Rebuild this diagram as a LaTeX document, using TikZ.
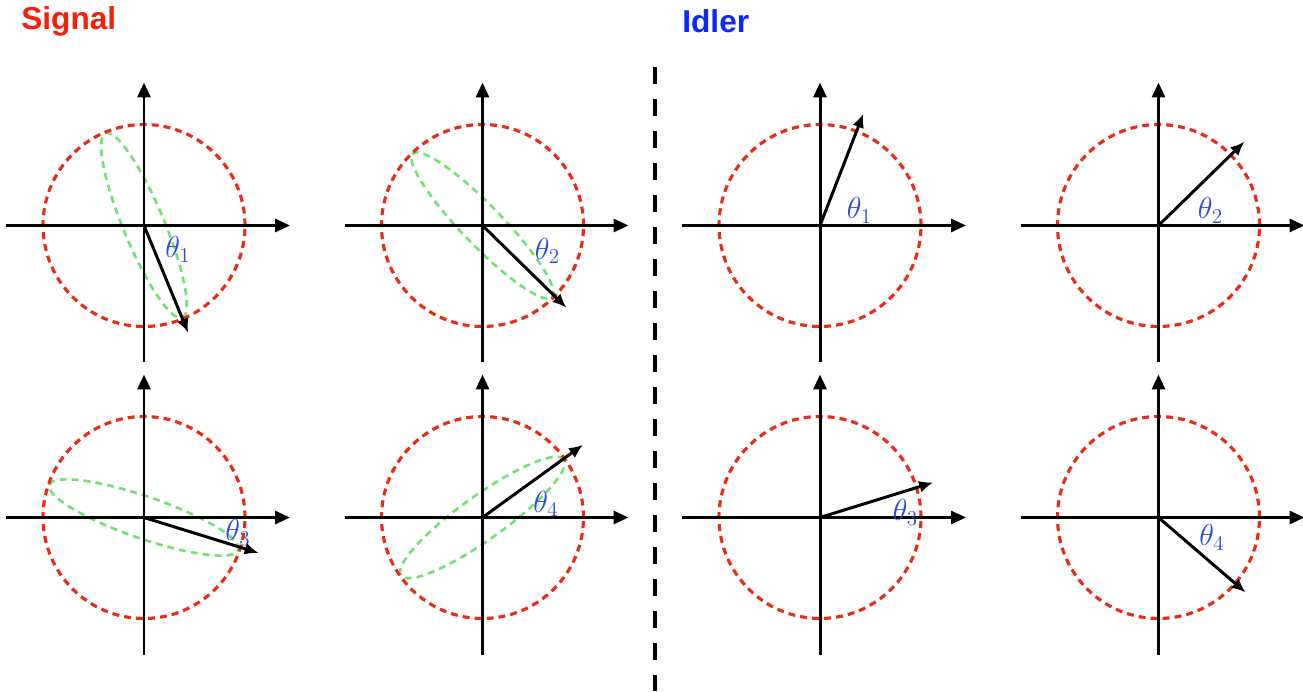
\documentclass[tikz,border=0pt]{standalone}
\usepackage{fontspec}
\usepackage{tikz}
\newfontfamily\headfont{Liberation Sans}
\usetikzlibrary{arrows.meta}

\definecolor{sigred}{RGB}{250,30,10}
\definecolor{idlblue}{RGB}{10,40,250}
\definecolor{ringred}{RGB}{230,45,25}
\definecolor{lobegreen}{RGB}{115,225,115}
\definecolor{angblue}{RGB}{45,75,215}

\begin{document}
\begin{tikzpicture}[
  axis/.style={line width=1.7pt,-{Triangle[length=0.30cm,width=0.26cm]}},
  ring/.style={ringred,line width=1.8pt,dash pattern=on 0.14cm off 0.10cm},
  lobe/.style={lobegreen,line width=1.5pt,dash pattern=on 0.14cm off 0.10cm},
  vec/.style={line width=1.7pt,-{Latex[length=0.28cm,width=0.24cm]}},
  ang/.style={text=angblue,font=\fontsize{17.28}{20}\selectfont,inner sep=0pt},
  title/.style={font=\headfont\bfseries\fontsize{18}{21}\selectfont,anchor=west,inner sep=0pt}]
  \useasboundingbox (0,0) rectangle (26.06,13.82);

  \node[title,text=sigred] (signal) at (0.42,13.40) {Signal};
  \node[title,text=idlblue] (idler) at (13.64,13.40) {Idler};

  \coordinate (sep top) at (13.1,12.48);
  \coordinate (sep bot) at (13.1,0);
  \draw[line width=1.8pt,dash pattern=on 0.34cm off 0.30cm] (sep top) -- (sep bot);

  % panel centres
  \foreach \p/\x/\y in {s1/2.88/9.31, s2/9.65/9.31, s3/2.88/3.47, s4/9.65/3.47,
                        i1/16.40/9.31, i2/23.17/9.31, i3/16.40/3.47, i4/23.17/3.47}
    \coordinate (\p) at (\x,\y);

  % green lobes of the signal
  \foreach \p/\a/\b in {s1/-67.4/0.41, s2/-45.9/0.40, s3/-19/0.42, s4/35.5/0.44}
    \draw[lobe,rotate around={\a:(\p)}] (\p) ellipse [x radius=2.0,y radius=\b];

  % circle, axes, vector and angle label
  \foreach \p/\a/\l/\i/\dx/\dy in {
      s1/-67.6/2.32/1/0.68/-0.48, s2/-44.4/2.35/2/1.30/-0.51,
      s3/-17.2/2.40/3/1.88/-0.30, s4/35.9/2.48/4/1.27/0.27,
      i1/68.8/2.40/1/0.79/0.30,   i2/44.3/2.40/2/1.04/0.30,
      i3/17.2/2.37/3/1.71/0.10,   i4/-40.7/2.30/4/1.07/-0.40}
  {
    \draw[ring] (\p) circle [radius=2.02];
    \draw[axis] ([xshift=-2.76cm]\p) -- ([xshift=2.92cm]\p);
    \draw[axis] ([yshift=-2.74cm]\p) -- ([yshift=2.86cm]\p);
    \path (\p) ++(\a:\l) coordinate (\p v);
    \draw[vec] (\p) -- (\p v);
    \node[ang] (\p lab) at ([shift={(\dx,\dy)}]\p) {$\theta_\i$};
  }
\end{tikzpicture}
\end{document}
